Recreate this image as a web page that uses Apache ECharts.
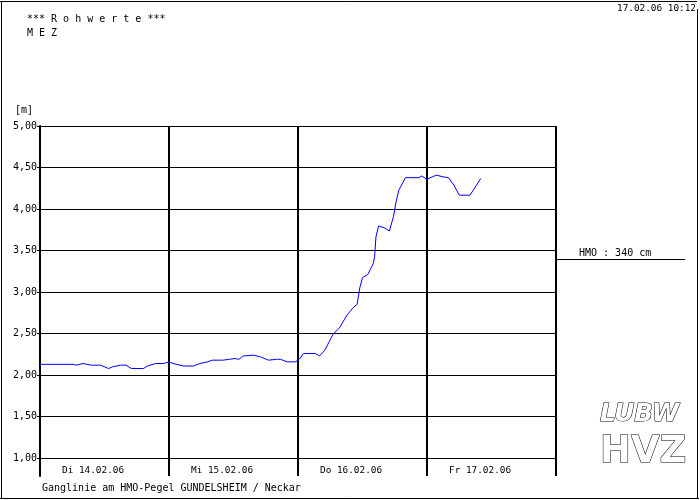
<!DOCTYPE html>
<html><head><meta charset="utf-8">
<script src="https://cdn.jsdelivr.net/npm/echarts@6/dist/echarts.min.js"></script>
<style>html,body{margin:0;padding:0;background:#fff}#c{width:700px;height:500px}</style>
</head><body><div id="c"></div>
<script>
// hours since 14.02.06 00:00
const hours = [0,6.25,6.75,8,9.5,11.25,12.75,13.5,15,16,17,19.25,20,21.5,23,24,24.75,26.75,28.5,29.75,31.25,32,34,35.25,36.25,37,37.75,39.75,41,42.5,44,44.75,46,47.5,48.25,49,51.25,52,53,54.5,55.75,57,58.25,59,59.5,60,61,62,62.25,62.5,63,64,65,65.75,66.25,66.75,68,70.5,71,72,73,73.75,75,76,77,78,80,80.5,82];
const levels = [2.14,2.14,2.13,2.15,2.13,2.13,2.09,2.11,2.13,2.13,2.09,2.09,2.12,2.15,2.15,2.17,2.15,2.12,2.12,2.15,2.17,2.19,2.19,2.20,2.21,2.20,2.24,2.25,2.23,2.19,2.20,2.20,2.17,2.17,2.20,2.27,2.27,2.24,2.31,2.50,2.58,2.72,2.82,2.86,3.06,3.18,3.22,3.35,3.43,3.67,3.80,3.78,3.74,3.91,4.09,4.23,4.38,4.38,4.40,4.36,4.39,4.41,4.39,4.38,4.29,4.17,4.17,4.22,4.37];
const dayLabels = ['Di 14.02.06','Mi 15.02.06','Do 16.02.06','Fr 17.02.06'];
const yTicks = [1.0,1.5,2.0,2.5,3.0,3.5,4.0,4.5,5.0];
const hmoLevel = 3.40;
const hmoText = 'HMO : 340 cm';
const titleText = '*** R o h w e r t e ***';
const zoneText = 'M E Z';
const stampText = '17.02.06 10:12';
const captionText = 'Ganglinie am HMO-Pegel GUNDELSHEIM / Neckar';
const unitText = '[m]';

const MONO = 'DejaVu Sans Mono';
const chart = echarts.init(document.getElementById('c'), null, {renderer:'canvas'});
const data = hours.map((h,i)=>[h, levels[i]]);
const opt = {
  animation:false,
  backgroundColor:'#fff',
  grid:[
    {left:40,right:144,top:126,bottom:24},
    {left:40,right:144,top:126,height:332}
  ],
  xAxis:[
    {gridIndex:0,type:'value',min:0,max:96,interval:24,
     axisLine:{show:false},axisTick:{show:false},axisLabel:{show:false},
     splitLine:{show:true,showMinLine:true,showMaxLine:true,lineStyle:{color:'#000',width:2}}},
    {gridIndex:0,type:'value',min:0,max:96,interval:24,position:'bottom',
     axisLine:{show:false},axisTick:{show:false},splitLine:{show:false},
     axisLabel:{show:true,inside:true,margin:5,align:'left',verticalAlign:'middle',
       padding:[0,0,0,22],color:'#000',fontFamily:MONO,fontSize:9.4,
       showMinLabel:true,showMaxLabel:true,
       formatter:v=>dayLabels[Math.round(v/24)]||''}},
    {gridIndex:1,type:'value',min:0,max:96,show:false}
  ],
  yAxis:[
    {gridIndex:0,type:'value',min:0.8,max:5,
     axisLine:{show:true,lineStyle:{color:'#000',width:2}},axisTick:{show:false},
     axisLabel:{show:false},splitLine:{show:false}},
    {gridIndex:1,type:'value',min:yTicks[0],max:yTicks[yTicks.length-1],interval:0.5,
     axisLine:{show:false},
     axisTick:{show:true,length:3,lineStyle:{color:'#000',width:1}},
     axisLabel:{show:true,margin:3,color:'#000',fontFamily:MONO,fontSize:10,
       formatter:v=>v.toFixed(2).replace('.',',')},
     splitLine:{show:true,showMinLine:true,showMaxLine:true,lineStyle:{color:'#000',width:1}}}
  ],
  series:[{
    type:'line',xAxisIndex:0,yAxisIndex:0,data:data,showSymbol:false,symbol:'none',
    lineStyle:{color:'#0000ff',width:1},z:5
  }]
};
chart.setOption(opt);
const yH = chart.convertToPixel({yAxisIndex:0}, hmoLevel);
const xR = chart.convertToPixel({xAxisIndex:0}, 96);
const T = (x,y,t,fs,al)=>({type:'text',x:x,y:y,z:10,
  style:{text:t,fill:'#000',font:fs+'px "'+MONO+'"',verticalAlign:'middle',textVerticalAlign:'middle',
         align:al||'left',textAlign:al||'left'}});
const L = (x1,y1,x2,y2)=>({type:'line',shape:{x1:x1,y1:y1,x2:x2,y2:y2},style:{stroke:'#000',lineWidth:1},silent:true});
chart.setOption({graphic:[
  L(0,1.5,697,1.5), L(1.5,1,1.5,499), L(0,498.5,699,498.5), L(697.5,9,697.5,499),
  T(27,19,titleText,10),
  T(27,33,zoneText,10),
  T(696,9,stampText,9.4,'right'),
  T(15,110,unitText,10),
  T(42,488,captionText,10),
  L(xR,Math.round(yH)+0.5,685,Math.round(yH)+0.5),
  T(xR+23,yH-5.5,hmoText,10),
  {type:'text',x:600,y:402,scaleX:1.1,style:{text:'LUBW',fill:'#fff',stroke:'#000',lineWidth:1,
     font:'italic bold 25px "DejaVu Sans Condensed"',verticalAlign:'top',textVerticalAlign:'top'}},
  {type:'text',x:600,y:433,scaleX:1.08,style:{text:'HVZ',fill:'#fff',stroke:'#000',lineWidth:1,
     font:'bold 38px "DejaVu Sans Condensed"',verticalAlign:'top',textVerticalAlign:'top'}}
]});
</script></body></html>
